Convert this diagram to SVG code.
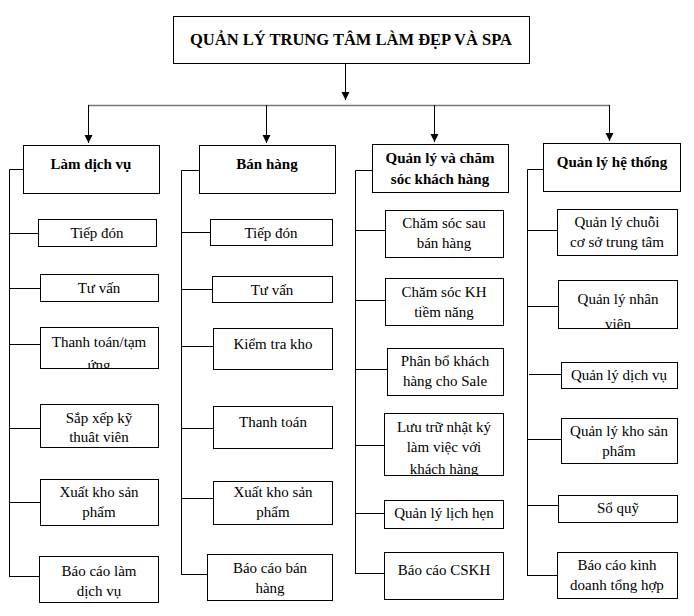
<svg xmlns="http://www.w3.org/2000/svg" width="694" height="616" viewBox="0 0 694 616">
<style>
.box{fill:#fff;stroke:#000;stroke-width:1}
.t{font-family:'Liberation Serif','Times New Roman',Times,serif;font-size:15px;text-anchor:middle;fill:#000}
.b{font-weight:bold}
.ti{font-size:16.5px}
.c line,.c path{stroke:#000;stroke-width:1;fill:none}
</style>
<defs>
<marker id="ah" markerUnits="userSpaceOnUse" markerWidth="8" markerHeight="9" refX="8" refY="4" orient="auto" viewBox="0 0 8 8">
<path d="M0,0 L8,4 L0,8 z" fill="#000"/>
</marker>
<clipPath id="cp1"><rect x="40" y="327" width="118" height="41"/></clipPath>
<clipPath id="cp2"><rect x="384" y="413" width="119" height="62"/></clipPath>
<clipPath id="cp3"><rect x="558" y="280" width="119" height="48"/></clipPath>
</defs>

<g id="connectors" class="c">
<line x1="345.5" y1="63" x2="345.5" y2="100" marker-end="url(#ah)"/>
<line x1="88" y1="105.5" x2="610" y2="105.5" style="stroke:#7a7a7a;stroke-width:1.5"/>
<line x1="88.5" y1="105" x2="88.5" y2="143" marker-end="url(#ah)"/>
<line x1="266.5" y1="105" x2="266.5" y2="143" marker-end="url(#ah)"/>
<line x1="434.5" y1="105" x2="434.5" y2="142" marker-end="url(#ah)"/>
<line x1="609.5" y1="105" x2="609.5" y2="141" marker-end="url(#ah)"/>
<path d="M23,169.5 H9.5 V577"/>
<path d="M9.5,233.5 H38 M9.5,288.5 H40 M9.5,344.5 H40 M9.5,428.5 H40 M9.5,502.5 H40 M9,576.5 H39"/>
<path d="M199,170.5 H181.5 V575"/>
<path d="M181.5,232.5 H210 M181.5,289.5 H212 M181.5,346.5 H213 M181.5,428.5 H213 M181.5,498.5 H213 M181,574.5 H207"/>
<path d="M372,170.5 H355.5 V574"/>
<path d="M355.5,230.5 H385 M355.5,300.5 H385 M355.5,369.5 H387 M355.5,445.5 H384 M355.5,513.5 H384 M355,573.5 H384"/>
<path d="M543,169.5 H527.5 V576"/>
<path d="M527.5,230.5 H557 M527.5,306.5 H558 M529,374.5 H561 M527.5,439.5 H561 M527.5,505.5 H558 M527,575.5 H557"/>
</g>

<g id="root"><rect class="box" x="173.5" y="16.5" width="356" height="47"/><text class="t b ti" x="351" y="45">QUẢN LÝ TRUNG TÂM LÀM ĐẸP VÀ SPA</text></g>

<g id="lamdichvu"><rect class="box" x="23.5" y="145.5" width="136" height="48"/><text class="t b" x="91" y="169">Làm dịch vụ</text></g>
<g id="banhang"><rect class="box" x="199.5" y="145.5" width="136" height="48"/><text class="t b" x="267" y="169">Bán hàng</text></g>
<g id="cskh"><rect class="box" x="372.5" y="144.5" width="136" height="48"/><text class="t b" x="440" y="163">Quản lý và chăm</text><text class="t b" x="440" y="184">sóc khách hàng</text></g>
<g id="hethong"><rect class="box" x="543.5" y="143.5" width="137" height="48"/><text class="t b" x="612" y="167">Quản lý hệ thống</text></g>

<g id="c1-tiepdon"><rect class="box" x="38.5" y="219.5" width="118" height="27"/><text class="t" x="97" y="238">Tiếp đón</text></g>
<g id="c1-tuvan"><rect class="box" x="40.5" y="274.5" width="118" height="27"/><text class="t" x="99" y="293">Tư vấn</text></g>
<g id="c1-thanhtoan"><rect class="box" x="40.5" y="327.5" width="118" height="41"/><g clip-path="url(#cp1)"><text class="t" x="99" y="347">Thanh toán/tạm</text><text class="t" x="99" y="370">ứng</text></g></g>
<g id="c1-sapxep"><rect class="box" x="40.5" y="404.5" width="118" height="43"/><text class="t" x="99" y="423">Sắp xếp kỹ</text><text class="t" x="99" y="442">thuât viên</text></g>
<g id="c1-xuatkho"><rect class="box" x="40.5" y="479.5" width="118" height="46"/><text class="t" x="99" y="497">Xuất kho sản</text><text class="t" x="99" y="517">phẩm</text></g>
<g id="c1-baocao"><rect class="box" x="39.5" y="556.5" width="119" height="46"/><text class="t" x="99" y="576">Báo cáo làm</text><text class="t" x="99" y="596">dịch vụ</text></g>

<g id="c2-tiepdon"><rect class="box" x="210.5" y="219.5" width="122" height="26"/><text class="t" x="271" y="238">Tiếp đón</text></g>
<g id="c2-tuvan"><rect class="box" x="212.5" y="276.5" width="120" height="26"/><text class="t" x="272" y="295">Tư vấn</text></g>
<g id="c2-kiemtra"><rect class="box" x="213.5" y="328.5" width="119" height="41"/><text class="t" x="273" y="349">Kiểm tra kho</text></g>
<g id="c2-thanhtoan"><rect class="box" x="213.5" y="406.5" width="119" height="42"/><text class="t" x="273" y="427">Thanh toán</text></g>
<g id="c2-xuatkho"><rect class="box" x="213.5" y="481.5" width="119" height="43"/><text class="t" x="273" y="497">Xuất kho sản</text><text class="t" x="273" y="517">phẩm</text></g>
<g id="c2-baocao"><rect class="box" x="207.5" y="554.5" width="125" height="46"/><text class="t" x="270" y="573">Báo cáo bán</text><text class="t" x="270" y="593">hàng</text></g>

<g id="c3-chamsocsau"><rect class="box" x="385.5" y="210.5" width="118" height="47"/><text class="t" x="444" y="228">Chăm sóc sau</text><text class="t" x="444" y="248">bán hàng</text></g>
<g id="c3-tiemnang"><rect class="box" x="385.5" y="278.5" width="118" height="47"/><text class="t" x="444" y="297">Chăm sóc KH</text><text class="t" x="444" y="317">tiềm năng</text></g>
<g id="c3-phanbo"><rect class="box" x="387.5" y="348.5" width="116" height="47"/><text class="t" x="445" y="366">Phân bổ khách</text><text class="t" x="445" y="386">hàng cho Sale</text></g>
<g id="c3-luutru"><rect class="box" x="384.5" y="413.5" width="119" height="62"/><g clip-path="url(#cp2)"><text class="t" x="444" y="432">Lưu trữ nhật ký</text><text class="t" x="444" y="452">làm việc với</text><text class="t" x="444" y="474">khách hàng</text></g></g>
<g id="c3-lichhen"><rect class="box" x="384.5" y="500.5" width="119" height="28"/><text class="t" x="444" y="518">Quản lý lịch hẹn</text></g>
<g id="c3-baocao"><rect class="box" x="384.5" y="552.5" width="119" height="47"/><text class="t" x="444" y="575">Báo cáo CSKH</text></g>

<g id="c4-chuoi"><rect class="box" x="557.5" y="209.5" width="120" height="46"/><text class="t" x="617" y="227">Quản lý chuỗi</text><text class="t" x="617" y="247">cơ sở trung tâm</text></g>
<g id="c4-nhanvien"><rect class="box" x="558.5" y="280.5" width="119" height="48"/><g clip-path="url(#cp3)"><text class="t" x="618" y="304">Quản lý nhân</text><text class="t" x="618" y="329">viên</text></g></g>
<g id="c4-dichvu"><rect class="box" x="561.5" y="362.5" width="116" height="26"/><text class="t" x="619" y="380">Quản lý dịch vụ</text></g>
<g id="c4-kho"><rect class="box" x="561.5" y="418.5" width="116" height="45"/><text class="t" x="619" y="436">Quản lý kho sản</text><text class="t" x="619" y="456">phẩm</text></g>
<g id="c4-soquy"><rect class="box" x="558.5" y="495.5" width="119" height="27"/><text class="t" x="618" y="513">Sổ quỹ</text></g>
<g id="c4-baocao"><rect class="box" x="557.5" y="552.5" width="120" height="46"/><text class="t" x="617" y="570">Báo cáo kinh</text><text class="t" x="617" y="590">doanh tổng hợp</text></g>
</svg>
